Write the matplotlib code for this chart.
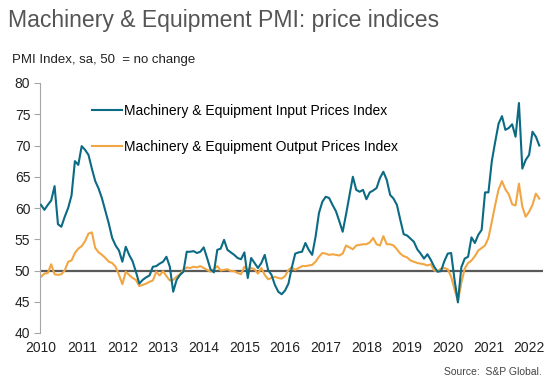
#!/usr/bin/env python
''' Machinery & Equipment PMI: price indices, monthly Jan 2010 - Apr 2022 '''

import numpy as np
import matplotlib
matplotlib.use('Agg')
import matplotlib.pyplot as plt

plt.rcParams['font.family'] = ['Liberation Sans', 'DejaVu Sans']

# monthly index values, Jan 2010 onwards
input_prices = [
    60.5, 59.7, 60.5, 61.2, 63.5, 57.4, 57.0, 58.6, 60.0, 62.0, 67.5, 66.9,   # 2010
    69.9, 69.3, 68.5, 66.3, 64.3, 63.1, 61.5, 59.5, 57.5, 55.2, 54.0, 53.2,   # 2011
    51.4, 53.8, 52.5, 51.5, 49.8, 47.9, 48.5, 48.9, 49.2, 50.6, 50.7, 51.1,   # 2012
    51.4, 52.2, 50.6, 46.6, 48.5, 49.3, 49.8, 53.0, 53.0, 53.1, 52.8, 53.0,   # 2013
    53.7, 52.0, 50.2, 49.7, 53.3, 53.5, 54.9, 53.3, 52.9, 52.5, 52.0, 51.8,   # 2014
    52.9, 48.8, 52.0, 51.2, 50.4, 51.2, 52.5, 50.1, 49.3, 47.7, 46.6, 46.2,   # 2015
    46.8, 47.9, 50.5, 52.7, 52.9, 53.0, 54.4, 53.3, 52.5, 55.4, 59.2, 61.0,   # 2016
    61.8, 61.6, 60.5, 59.5, 57.9, 56.2, 59.0, 62.0, 65.0, 62.9, 62.6, 62.9,   # 2017
    61.4, 62.5, 62.8, 63.2, 64.8, 65.8, 64.5, 62.1, 61.5, 60.5, 58.1, 55.8,   # 2018
    55.6, 55.1, 54.6, 53.4, 52.7, 51.9, 52.6, 51.7, 50.6, 49.8, 49.9, 51.5,   # 2019
    52.7, 52.8, 48.5, 44.9, 50.5, 51.9, 52.2, 55.3, 54.4, 55.7, 56.5, 62.5,   # 2020
    62.5, 67.5, 70.6, 73.5, 74.7, 72.5, 72.8, 73.4, 71.4, 76.8, 66.3, 67.7,   # 2021
    68.5, 72.2, 71.4, 70.0,                                                   # 2022
]
output_prices = [
    49.0, 49.5, 49.6, 51.0, 49.4, 49.3, 49.4, 50.0, 51.4, 51.6, 52.8, 53.5,   # 2010
    53.9, 54.7, 55.9, 56.1, 53.6, 52.9, 52.5, 52.0, 51.4, 51.2, 50.6, 49.3,   # 2011
    47.8, 49.8, 49.3, 48.8, 48.5, 47.5, 47.7, 47.9, 48.2, 48.4, 49.8, 49.2,   # 2012
    49.9, 49.1, 48.4, 48.5, 49.0, 49.4, 50.1, 50.5, 50.4, 50.6, 50.5, 50.7,   # 2013
    50.4, 50.1, 49.8, 50.2, 50.7, 50.0, 50.1, 50.2, 49.9, 49.9, 49.6, 49.4,   # 2014
    50.6, 50.1, 50.4, 50.2, 49.5, 50.4, 49.3, 48.6, 48.8, 49.0, 48.8, 48.7,   # 2015
    49.1, 50.1, 50.5, 50.1, 50.4, 50.7, 50.7, 50.8, 50.9, 51.4, 52.2, 52.8,   # 2016
    52.7, 52.5, 52.6, 52.5, 52.4, 52.7, 54.0, 53.7, 53.4, 54.0, 54.1, 54.2,   # 2017
    54.2, 54.5, 55.2, 54.2, 54.0, 55.5, 54.2, 54.2, 54.0, 53.4, 52.7, 52.3,   # 2018
    52.1, 51.6, 51.4, 51.2, 51.1, 51.0, 50.8, 51.0, 50.0, 49.9, 50.3, 50.4,   # 2019
    50.2, 49.0, 47.0, 45.1, 48.0, 50.3, 51.2, 51.6, 52.3, 53.2, 53.6, 54.0,   # 2020
    55.2, 57.8, 60.5, 63.0, 64.3, 63.0, 62.2, 60.6, 60.4, 63.9, 60.2, 58.6,   # 2021
    59.4, 60.5, 62.3, 61.5,                                                   # 2022
]
years = list(range(2010, 2023))

teal = '#0b6a84'
orange = '#f2a643'

x = np.arange(len(input_prices))

fig = plt.figure(figsize=(5.51, 3.85), dpi=100)
ax = fig.add_axes([40/551, 52/385, 503/551, 250/385])

ax.axhline(50, color='#595959', lw=1.6, zorder=1)
ax.plot(x, input_prices, color=teal, lw=1.5, zorder=3,
        label='Machinery & Equipment Input Prices Index')
ax.plot(x, output_prices, color=orange, lw=1.5, zorder=2,
        label='Machinery & Equipment Output Prices Index')

ax.set_xlim(-0.3, 148.1)
ax.set_ylim(40, 80)
ax.set_yticks(range(40, 81, 5))
ax.set_xticks([12 * i for i in range(len(years))])
ax.set_xticklabels([str(y) for y in years])
ax.tick_params(axis='x', length=0, labelsize=10, pad=6, labelcolor='#222222')
ax.tick_params(axis='y', length=4, width=0.8, color='#a6a6a6',
               labelsize=10, pad=3, labelcolor='#222222')
for s in ['top', 'right', 'bottom']:
    ax.spines[s].set_visible(False)
ax.spines['left'].set_color('#a6a6a6')
ax.spines['left'].set_linewidth(0.8)

leg = ax.legend(loc='upper left', bbox_to_anchor=(0.093, 0.938), frameon=False,
                fontsize=10, handlelength=2.15, handletextpad=0.15,
                labelspacing=1.55, borderaxespad=0)

fig.text(8/551, 1 - 21/385, 'Machinery & Equipment PMI: price indices',
         fontsize=16.6, color='#555555', va='center', ha='left')
fig.text(12/551, 1 - 60/385, 'PMI Index, sa, 50  = no change',
         fontsize=9.5, color='#222222', va='center', ha='left')
fig.text(542/551, 1 - 372/385, 'Source:  S&P Global.',
         fontsize=7.5, color='#444444', va='center', ha='right')

plt.savefig('out.png', dpi=100)
